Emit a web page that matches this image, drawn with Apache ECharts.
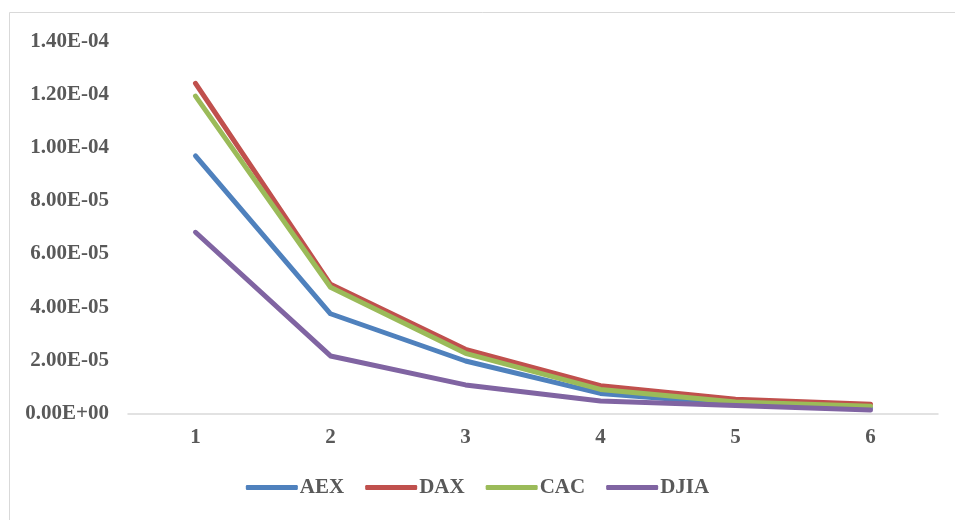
<!DOCTYPE html>
<html>
<head>
<meta charset="utf-8">
<script src="https://cdn.jsdelivr.net/npm/echarts@6/dist/echarts.min.js"></script>
<style>html,body{margin:0;padding:0;background:#fff}#c{width:955px;height:520px}</style>
</head>
<body>
<div id="c"></div>
<script>
const categories = ['1', '2', '3', '4', '5', '6'];
const seriesNames = ['AEX', 'DAX', 'CAC', 'DJIA'];
const aex  = [9.7e-5, 3.75e-5, 1.97e-5, 7.5e-6, 3.5e-6, 2.0e-6];
const dax  = [1.243e-4, 4.86e-5, 2.41e-5, 1.04e-5, 5.3e-6, 3.4e-6];
const cac  = [1.195e-4, 4.75e-5, 2.26e-5, 9.0e-6, 4.3e-6, 2.7e-6];
const djia = [6.82e-5, 2.16e-5, 1.07e-5, 4.6e-6, 2.9e-6, 1.2e-6];
const yMin = 0, yMax = 1.4e-4, yInterval = 2e-5;

const colors = ['#4F81BD', '#C0504D', '#9BBB59', '#8064A2'];
const fontFam = '"Liberation Serif", "Times New Roman", serif';
const txt = '#595959';
const fs = 21;

function fmtExp(v) {
  if (Math.abs(v) < 1e-12) return '0.00E+00';
  let e = Math.floor(Math.log10(Math.abs(v)) + 1e-9);
  let m = v / Math.pow(10, e);
  let ms = m.toFixed(2);
  if (parseFloat(ms) >= 10) { e += 1; ms = (v / Math.pow(10, e)).toFixed(2); }
  const sign = e < 0 ? '-' : '+';
  const ea = Math.abs(e);
  return ms + 'E' + sign + (ea < 10 ? '0' + ea : '' + ea);
}

const data = [aex, dax, cac, djia];
const chart = echarts.init(document.getElementById('c'), null, {renderer: 'canvas'});
chart.setOption({
  animation: false,
  backgroundColor: '#fff',
  graphic: [{
    type: 'rect', left: 7, top: 10, shape: {x: 0, y: 0, width: 960, height: 520},
    style: {fill: 'none', stroke: '#d9d9d9', lineWidth: 1}, silent: true, z: -1
  }],
  grid: {left: 128, right: 17, top: 41.7, bottom: 106.7, containLabel: false},
  legend: {
    data: seriesNames, bottom: 17, left: 'center',
    itemWidth: 52, itemHeight: 5, itemGap: 21,
    icon: 'roundRect',
    textStyle: {fontFamily: fontFam, fontWeight: 'bold', fontSize: fs, color: txt, padding: [0, 0, 0, -3]}
  },
  xAxis: {
    type: 'category', data: categories, boundaryGap: true,
    axisLine: {lineStyle: {color: '#d9d9d9', width: 1.5}},
    axisTick: {show: false},
    axisLabel: {fontFamily: fontFam, fontWeight: 'bold', fontSize: fs, color: txt, margin: 14}
  },
  yAxis: {
    type: 'value', min: yMin, max: yMax, interval: yInterval,
    axisLine: {show: false}, axisTick: {show: false}, splitLine: {show: false},
    axisLabel: {fontFamily: fontFam, fontWeight: 'bold', fontSize: fs, color: txt, margin: 19, formatter: fmtExp}
  },
  series: seriesNames.map((n, i) => ({
    name: n, type: 'line', data: data[i], symbol: 'none',
    lineStyle: {color: colors[i], width: 5, cap: 'round', join: 'round'},
    itemStyle: {color: colors[i]}
  }))
});
</script>
</body>
</html>
